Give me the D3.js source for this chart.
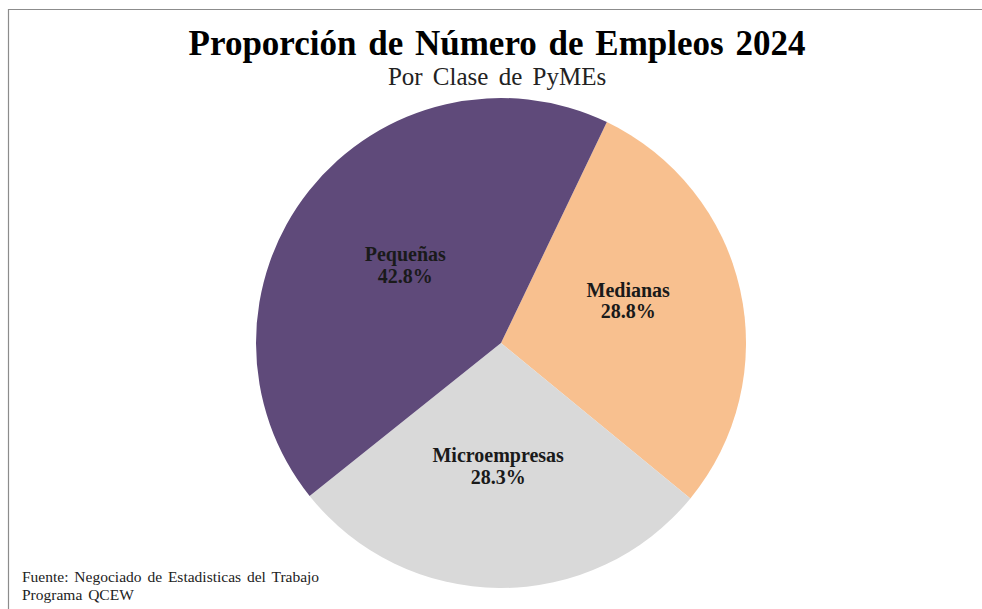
<!DOCTYPE html>
<html>
<head>
<meta charset="utf-8">
<script src="https://cdn.jsdelivr.net/npm/d3@7"></script>
<style>
  body { margin: 0; background: #fff; }
  svg text { font-family: "Liberation Serif", "Times New Roman", serif; }
</style>
</head>
<body>
<div id="chart"></div>
<script>
// data
var categories = ["Medianas", "Microempresas", "Pequeñas"];
var shares = [28.8, 28.3, 42.8];
var colors = ["#f8c08f", "#d9d9d9", "#5f4a7a"];

var width = 982, height = 609;
var cx = 501, cy = 343, radius = 245;

// small label nudges, excel does not put them exactly on the mid angle
var labelNudge = [[4, -16], [-2, -4], [3, 0]];

var svg = d3.select("#chart").append("svg")
  .attr("width", width)
  .attr("height", height);

// frame of the chart area
svg.append("line")
  .attr("x1", 8.5).attr("x2", 8.5).attr("y1", 9).attr("y2", height)
  .attr("stroke", "#8c8c8c").attr("stroke-width", 1.2);
svg.append("line")
  .attr("x1", 8).attr("x2", width).attr("y1", 9.5).attr("y2", 9.5)
  .attr("stroke", "#8c8c8c").attr("stroke-width", 1.2);

svg.append("text")
  .attr("x", 497).attr("y", 55)
  .attr("text-anchor", "middle")
  .style("font-size", "35px").style("font-weight", "bold")
  .style("word-spacing", "3px")
  .text("Proporción de Número de Empleos 2024");

svg.append("text")
  .attr("x", 497).attr("y", 85)
  .attr("text-anchor", "middle")
  .style("font-size", "25px")
  .style("word-spacing", "4px")
  .style("fill", "#222")
  .text("Por Clase de PyMEs");

var data = categories.map(function (c, i) {
  return { name: c, value: shares[i], color: colors[i], idx: i };
});

var pie = d3.pie()
  .sort(null)
  .value(function (d) { return d.value; })
  .startAngle(25.6 * Math.PI / 180)
  .endAngle(25.6 * Math.PI / 180 + 2 * Math.PI);

var arc = d3.arc().innerRadius(0).outerRadius(radius);
var labelArc = d3.arc().innerRadius(radius * 0.515).outerRadius(radius * 0.515);

var g = svg.append("g").attr("transform", "translate(" + cx + "," + cy + ")");

var slice = g.selectAll("g.slice")
  .data(pie(data))
  .enter()
  .append("g")
  .attr("class", "slice");

slice.append("path")
  .attr("d", arc)
  .attr("fill", function (d) { return d.data.color; });

var lbl = slice.append("text")
  .attr("transform", function (d) {
    var c = labelArc.centroid(d);
    var n = labelNudge[d.data.idx];
    return "translate(" + (c[0] + n[0]) + "," + (c[1] + n[1]) + ")";
  })
  .attr("text-anchor", "middle")
  .style("font-size", "20px")
  .style("font-weight", "bold")
  .style("fill", "#1a1a1a");

lbl.append("tspan")
  .attr("x", 0).attr("dy", -3)
  .text(function (d) { return d.data.name; });
lbl.append("tspan")
  .attr("x", 0).attr("dy", 21.6)
  .text(function (d) { return d.data.value.toFixed(1) + "%"; });

svg.append("text")
  .attr("x", 22).attr("y", 582)
  .style("font-size", "15.5px")
  .style("word-spacing", "2px")
  .style("fill", "#222")
  .text("Fuente: Negociado de Estadisticas del Trabajo");
svg.append("text")
  .attr("x", 22).attr("y", 600)
  .style("font-size", "15.5px")
  .style("word-spacing", "2px")
  .style("fill", "#222")
  .text("Programa QCEW");
</script>
</body>
</html>
